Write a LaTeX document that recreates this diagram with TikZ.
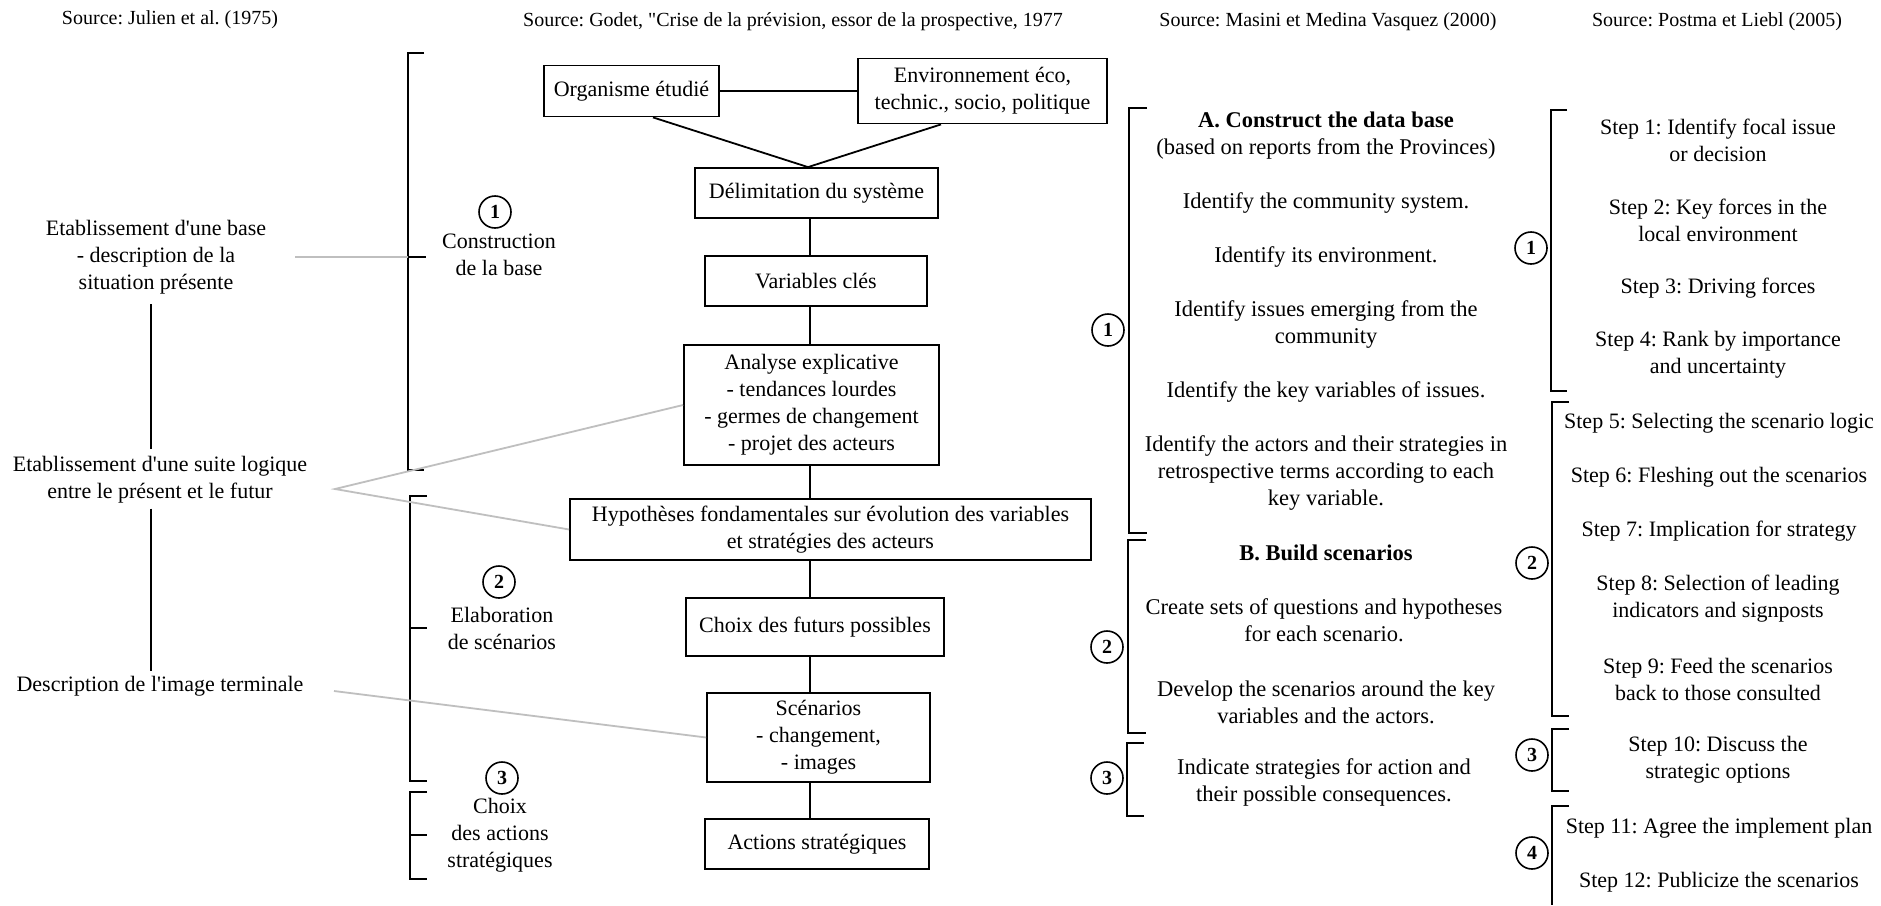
\documentclass[tikz,border=0pt]{standalone}
\usepackage{fontspec}
\setmainfont{Liberation Serif}[Ligatures=TeXOff]
\frenchspacing
\begin{document}
\begin{tikzpicture}[x=1pt,y=-1pt,
  box/.style={draw, line width=1.8pt, align=center, inner sep=0pt, font=\fontsize{22}{27}\selectfont},
  txt/.style={align=center, inner sep=2pt, font=\fontsize{22}{27}\selectfont},
  mtxt/.style={align=center, inner sep=2pt, font=\fontsize{22.5}{27}\selectfont},
  src/.style={inner sep=0pt, font=\fontsize{20}{24}\selectfont},
  num/.style={circle, draw, line width=1.6pt, minimum size=32pt, inner sep=0pt, font=\bfseries\fontsize{20}{20}\selectfont},
  brk/.style={line width=1.8pt},
  conn/.style={line width=1.8pt},
  grayl/.style={draw=black!25, line width=1.8pt}]
\useasboundingbox (0,0) rectangle (1881,905);
\fill[white] (0,0) rectangle (1881,905);

% sources
\node[src] (s1) at (170,20) {Source: Julien et al. (1975)};
\node[src] (s2) at (793,22) {Source: Godet, "Crise de la prévision, essor de la prospective, 1977};
\node[src] (s3) at (1328,22) {Source: Masini et Medina Vasquez (2000)};
\node[src] (s4) at (1717,22) {Source: Postma et Liebl (2005)};

% left column
\node[txt] (t1) at (156,257) {Etablissement d'une base\\- description de la\\situation présente};
\node[txt] (t2) at (160,480) {Etablissement d'une suite logique\\entre le présent et le futur};
\node[txt] (t3) at (160,686) {Description de l'image terminale};
\coordinate (vx) at (151,0);
\draw[conn, shorten <=8pt, shorten >=5pt] (t1.south -| vx) -- (t2.north -| vx);
\draw[conn, shorten <=3pt, shorten >=3pt] (t2.south -| vx) -- (t3.north -| vx);

% Julien brackets
\draw[brk] (424,53) -- (408,53) -- (408,470) -- (424,470);
\coordinate (b1m) at (408,257);
\draw[brk] (b1m) -- (426,257);
\draw[brk] (427,496) -- (410,496) -- (410,781) -- (427,781);
\draw[brk] (410,628) -- (427,628);
\draw[brk] (427,792) -- (410,792) -- (410,879) -- (427,879);
\draw[brk] (410,835) -- (427,835);

\node[num] (j1) at (495,212) {1};
\node[num] (j2) at (499,582) {2};
\node[num] (j3) at (502,778) {3};
\node[txt] (l1) at (499,255) {Construction\\de la base};
\node[txt] (l2) at (502,628.5) {Elaboration\\de scénarios};
\node[txt] (l3) at (500,835) {Choix\\des actions\\stratégiques};

% Godet boxes
\node[box, minimum width=175pt, minimum height=51pt] (org) at (631.5,91) {Organisme étudié};
\node[box, minimum width=249pt, minimum height=65pt] (env) at (982.5,91) {Environnement éco,\\technic., socio, politique};
\node[box, minimum width=243pt, minimum height=50pt] (delim) at (816.5,193) {Délimitation du système};
\node[box, minimum width=222pt, minimum height=50pt] (var) at (816,281) {Variables clés};
\node[box, minimum width=255pt, minimum height=120pt] (ana) at (811.5,405) {Analyse explicative\\- tendances lourdes\\- germes de changement\\- projet des acteurs};
\node[box, minimum width=521pt, minimum height=61pt] (hyp) at (830.5,529.5) {Hypothèses fondamentales sur évolution des variables\\et stratégies des acteurs};
\node[box, minimum width=258pt, minimum height=58pt] (choix) at (815,627) {Choix des futurs possibles};
\node[box, minimum width=223pt, minimum height=89pt] (scen) at (818.5,737.5) {Scénarios\\- changement,\\- images};
\node[box, minimum width=224pt, minimum height=50pt] (act) at (817,844) {Actions stratégiques};

\coordinate (spine) at (810,0);
\draw[conn] (org.east) -- (env.west);
\draw[conn] ([xshift=21.5pt]org.south) -- ([xshift=-8.5pt]delim.north) -- ([xshift=-41.5pt]env.south);
\draw[conn] (delim.south -| spine) -- (var.north -| spine);
\draw[conn] (var.south -| spine) -- (ana.north -| spine);
\draw[conn] (ana.south -| spine) -- (hyp.north -| spine);
\draw[conn] (hyp.south -| spine) -- (choix.north -| spine);
\draw[conn] (choix.south -| spine) -- (scen.north -| spine);
\draw[conn] (scen.south -| spine) -- (act.north -| spine);

% gray links
\coordinate (g1) at (295,257);
\coordinate (g2) at (335,489);
\coordinate (g3) at (334,691);
\draw[grayl] (g1) -- (b1m);
\draw[grayl] (ana.west) -- (g2) -- (hyp.west);
\draw[grayl] (g3) -- (scen.west);

% Masini
\draw[brk] (1147,108) -- (1129,108) -- (1129,533) -- (1147,533);
\draw[brk] (1146,540) -- (1128,540) -- (1128,733) -- (1146,733);
\draw[brk] (1144,743) -- (1127,743) -- (1127,816) -- (1144,816);
\node[num] (m1) at (1108,330) {1};
\node[num] (m2) at (1107,647) {2};
\node[num] (m3) at (1107,778) {3};
\node[mtxt] (ma) at (1326,135.5) {\textbf{A. Construct the data base}\\(based on reports from the Provinces)};
\node[mtxt] (mb) at (1326,203) {Identify the community system.};
\node[mtxt] (mc) at (1326,257) {Identify its environment.};
\node[mtxt] (md) at (1326,324.5) {Identify issues emerging from the\\community};
\node[mtxt] (me) at (1326,392) {Identify the key variables of issues.};
\node[mtxt] (mf) at (1326,472.5) {Identify the actors and their strategies in\\retrospective terms according to each\\key variable.};
\node[mtxt] (mg) at (1326,553) {\textbf{B. Build scenarios}};
\node[mtxt] (mh) at (1324,620.5) {Create sets of questions and hypotheses\\for each scenario.};
\node[mtxt] (mi) at (1326,702) {Develop the scenarios around the key\\variables and the actors.};
\node[mtxt] (mj) at (1324,782.5) {Indicate strategies for action and\\their possible consequences.};

% Postma
\draw[brk] (1567,110) -- (1551,110) -- (1551,391) -- (1567,391);
\draw[brk] (1569,402) -- (1552,402) -- (1552,716) -- (1569,716);
\draw[brk] (1569,729) -- (1552,729) -- (1552,791) -- (1569,791);
\draw[brk] (1569,806) -- (1552,806) -- (1552,905);
\node[num] (p1) at (1531,248) {1};
\node[num] (p2) at (1532,563) {2};
\node[num] (p3) at (1532,755) {3};
\node[num] (p4) at (1532,853) {4};
\node[txt] (pa) at (1718,140) {Step 1: Identify focal issue\\or decision};
\node[txt] (pb) at (1718,220) {Step 2: Key forces in the\\local environment};
\node[txt] (pc) at (1718,288) {Step 3: Driving forces};
\node[txt] (pd) at (1718,355) {Step 4: Rank by importance\\and uncertainty};
\node[txt] (pe) at (1719,423) {Step 5: Selecting the scenario logic};
\node[txt] (pf) at (1719,477) {Step 6: Fleshing out the scenarios};
\node[txt] (pg) at (1719,531) {Step 7: Implication for strategy};
\node[txt] (ph) at (1718,598.5) {Step 8: Selection of leading\\indicators and signposts};
\node[txt] (pi) at (1718,679.5) {Step 9: Feed the scenarios\\back to those consulted};
\node[txt] (pj) at (1718,760) {Step 10: Discuss the\\strategic options};
\node[txt] (pk) at (1719,828) {Step 11: Agree the implement plan};
\node[txt] (pl) at (1719,882) {Step 12: Publicize the scenarios};
\end{tikzpicture}
\end{document}
